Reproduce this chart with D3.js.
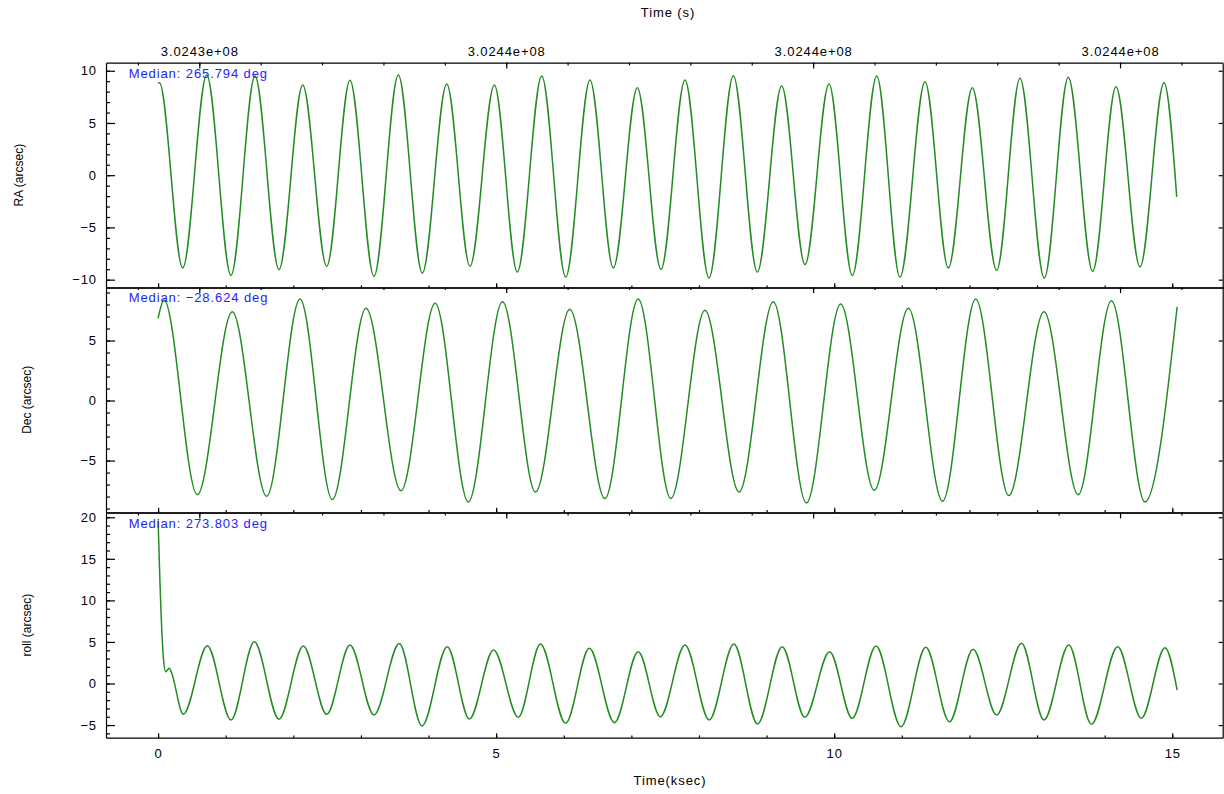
<!DOCTYPE html>
<html>
<head>
<meta charset="utf-8">
<script src="https://cdn.jsdelivr.net/npm/d3@7"></script>
<style>
body { margin: 0; background: #fff; }
text { font-family: "Liberation Sans", Arial, Helvetica, sans-serif; }
</style>
</head>
<body>
<div id="chart"></div>
<script>
var width = 1224;
var height = 794;

var plotLeft = 106;
var plotRight = 1222.7;
var panelTops = [62.7, 287.3, 512.7];
var panelHeight = 225;

// turning points of each trace (ksec, arcsec)
var raTime = [0.00, 0.02, 0.364, 0.719, 1.078, 1.433, 1.788, 2.139, 2.494, 2.838, 3.193, 3.553, 3.908, 4.269, 4.613, 4.973, 5.313, 5.674, 6.029, 6.388, 6.733, 7.088, 7.438, 7.793, 8.148, 8.508, 8.863, 9.223, 9.568, 9.923, 10.268, 10.629, 10.973, 11.343, 11.688, 12.043, 12.403, 12.748, 13.107, 13.462, 13.823, 14.168, 14.523, 14.878, 15.066];
var raValue = [8.79, 8.85, -8.89, 9.59, -9.59, 9.49, -9.04, 8.63, -8.72, 9.08, -9.68, 9.59, -9.37, 8.72, -8.72, 8.63, -9.27, 9.49, -9.75, 9.11, -8.89, 8.37, -9.01, 9.11, -9.84, 9.52, -9.27, 8.53, -8.56, 8.72, -9.59, 9.49, -9.75, 8.95, -8.89, 8.37, -9.11, 9.27, -9.85, 9.37, -9.20, 8.47, -8.79, 8.85, -2.08];

var decTime = [0.00, 0.087, 0.580, 1.097, 1.606, 2.099, 2.577, 3.075, 3.593, 4.098, 4.588, 5.094, 5.583, 6.089, 6.610, 7.101, 7.583, 8.088, 8.593, 9.099, 9.589, 10.095, 10.592, 11.097, 11.603, 12.093, 12.582, 13.103, 13.609, 14.100, 14.597, 15.072];
var decValue = [6.85, 8.37, -7.84, 7.40, -7.98, 8.45, -8.25, 7.68, -7.51, 8.10, -8.45, 8.23, -7.62, 7.60, -8.17, 8.45, -8.17, 7.51, -7.62, 8.23, -8.53, 8.04, -7.48, 7.68, -8.39, 8.45, -7.92, 7.40, -7.84, 8.31, -8.45, 7.81];

var rollTime = [0.00, 0.028, 0.077, 0.112, 0.166, 0.201, 0.373, 0.728, 1.078, 1.423, 1.788, 2.148, 2.494, 2.838, 3.193, 3.568, 3.903, 4.277, 4.604, 4.962, 5.328, 5.655, 6.027, 6.378, 6.750, 7.101, 7.428, 7.793, 8.151, 8.516, 8.866, 9.231, 9.565, 9.932, 10.266, 10.619, 10.988, 11.355, 11.704, 12.054, 12.403, 12.770, 13.103, 13.470, 13.804, 14.193, 14.542, 14.893, 15.072];
var rollValue = [19.6, 12.06, 3.23, 1.42, 1.83, 1.23, -3.71, 4.55, -4.39, 5.03, -4.31, 4.51, -3.71, 4.63, -3.79, 4.80, -5.11, 4.43, -4.27, 4.03, -4.07, 4.75, -4.79, 4.24, -4.71, 3.83, -3.99, 4.63, -4.39, 4.75, -4.87, 4.43, -4.07, 3.83, -4.19, 4.51, -5.20, 4.35, -4.60, 4.12, -3.79, 4.84, -4.39, 4.63, -4.91, 4.43, -4.19, 4.31, -0.78];

var raTicks = [-10, -5, 0, 5, 10];
var decTicks = [-5, 0, 5];
var rollTicks = [-5, 0, 5, 10, 15, 20];
var ksecTicks = [0, 5, 10, 15];
var secTicks = [302434000, 302436000, 302438000, 302440000];

var medianLabels = ["Median: 265.794 deg", "Median: \u221228.624 deg", "Median: 273.803 deg"];
var yTitles = ["RA (arcsec)", "Dec (arcsec)", "roll (arcsec)"];

var lineColor = "#228b22";
var medianColor = "#2424ff";
var fontFamily = '"Liberation Sans", Arial, Helvetica, sans-serif';

var svg = d3.select("#chart").append("svg")
    .attr("width", width)
    .attr("height", height);

var x = d3.scaleLinear()
    .domain([-0.7706, 15.746])
    .range([plotLeft, plotRight]);

// spacecraft clock seconds along the top edge
var xSec = d3.scaleLinear()
    .domain([302433392, 302440669])
    .range([plotLeft, plotRight]);

function secFormat(v) {
    return v.toExponential(4).replace(/e([+-])(\d)$/, "e$10$2");
}

function styleAxis(g, size) {
    g.attr("font-size", size).attr("font-family", fontFamily);
    g.selectAll("text").attr("fill", "#000").style("letter-spacing", "0.9px");
    g.selectAll("path, line").attr("stroke", "#000").attr("stroke-width", 1.2);
}

function drawPanel(i, yDomain, times, values, ticks, minorTicks, titleX) {
    var top = panelTops[i];
    var g = svg.append("g").attr("transform", "translate(0," + top + ")");

    var y = d3.scaleLinear().domain(yDomain).range([panelHeight, 0]);

    g.append("clipPath").attr("id", "clip" + i)
        .append("rect")
        .attr("x", plotLeft)
        .attr("y", 0)
        .attr("width", plotRight - plotLeft)
        .attr("height", panelHeight);

    var line = d3.line()
        .x(function (d) { return x(d[0]); })
        .y(function (d) { return y(d[1]); })
        .curve(d3.curveMonotoneX);

    g.append("path")
        .datum(d3.zip(times, values))
        .attr("clip-path", "url(#clip" + i + ")")
        .attr("fill", "none")
        .attr("stroke", lineColor)
        .attr("stroke-width", 1.5)
        .attr("d", line);

    // left axis, ticks point inward
    var left = g.append("g").attr("transform", "translate(" + plotLeft + ",0)")
        .call(d3.axisLeft(y).tickValues(ticks).tickSize(-9).tickPadding(9).tickSizeOuter(0));
    styleAxis(left, 13);

    var leftMinor = g.append("g").attr("transform", "translate(" + plotLeft + ",0)")
        .call(d3.axisLeft(y).tickValues(minorTicks).tickSize(-4).tickFormat(""));
    leftMinor.select(".domain").remove();
    styleAxis(leftMinor, 13);

    var right = g.append("g").attr("transform", "translate(" + plotRight + ",0)")
        .call(d3.axisLeft(y).tickValues(ticks).tickSize(4).tickFormat("").tickSizeOuter(0));
    styleAxis(right, 13);

    // ksec ticks on the bottom edge
    var bottomAxis = d3.axisBottom(x).tickValues(ksecTicks).tickSize(-4.5).tickPadding(11.5).tickSizeOuter(0);
    if (i < 2) {
        bottomAxis.tickFormat("");
    }
    var bottom = g.append("g").attr("transform", "translate(0," + panelHeight + ")")
        .call(bottomAxis);
    styleAxis(bottom, 13);

    var bottomMinor = g.append("g").attr("transform", "translate(0," + panelHeight + ")")
        .call(d3.axisBottom(x).tickValues(d3.range(0, 16, 1)).tickSize(-2.3).tickFormat(""));
    bottomMinor.select(".domain").remove();
    styleAxis(bottomMinor, 13);

    // seconds ticks on the top edge
    var topAxis = d3.axisTop(xSec).tickValues(secTicks).tickSize(-5.7).tickPadding(7).tickSizeOuter(0);
    if (i === 0) {
        topAxis.tickFormat(secFormat);
    } else {
        topAxis.tickFormat("");
    }
    var topG = g.append("g").call(topAxis);
    styleAxis(topG, 13);

    var topMinor = g.append("g")
        .call(d3.axisTop(xSec).tickValues(d3.range(302433600, 302440669, 400)).tickSize(-2.7).tickFormat(""));
    topMinor.select(".domain").remove();
    styleAxis(topMinor, 13);

    g.append("text")
        .attr("x", 128.7)
        .attr("y", 15)
        .attr("font-size", 13)
        .attr("fill", medianColor)
        .style("letter-spacing", "0.9px")
        .text(medianLabels[i]);

    g.append("text")
        .attr("transform", "translate(" + titleX + "," + (panelHeight / 2) + ") rotate(-90)")
        .attr("text-anchor", "middle")
        .attr("font-size", 12)
        .attr("fill", "#000")
        .text(yTitles[i]);
}

drawPanel(0, [-10.77, 10.77], raTime, raValue, raTicks, d3.range(-10, 11, 1), 22.5);
drawPanel(1, [-9.31, 9.43], decTime, decValue, decTicks, d3.range(-9, 10, 1), 30.8);
drawPanel(2, [-6.52, 20.55], rollTime, rollValue, rollTicks, d3.range(-6, 21, 1), 31);

svg.append("text")
    .attr("x", 668)
    .attr("y", 16.5)
    .attr("text-anchor", "middle")
    .attr("font-size", 13)
    .style("letter-spacing", "0.9px")
    .text("Time (s)");

svg.append("text")
    .attr("x", 670)
    .attr("y", 785)
    .attr("text-anchor", "middle")
    .attr("font-size", 13)
    .style("letter-spacing", "0.9px")
    .text("Time(ksec)");
</script>
</body>
</html>
